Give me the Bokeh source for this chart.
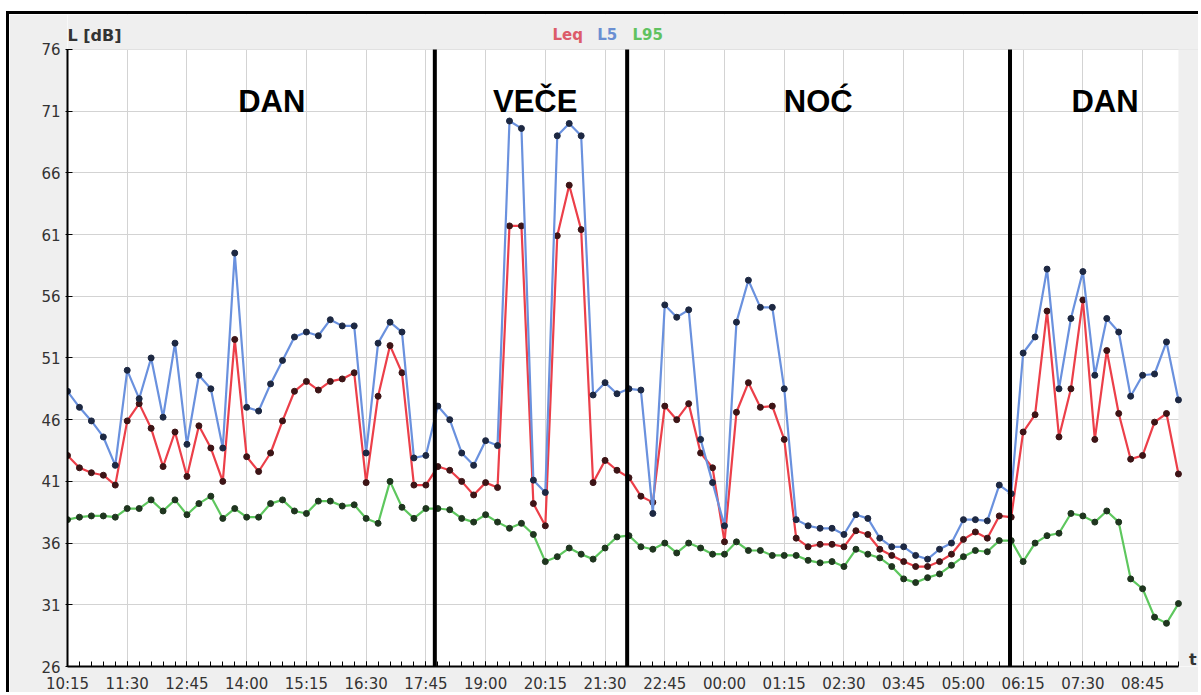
from bokeh.plotting import figure
from bokeh.models import Range1d, FixedTicker, Label, ColumnDataSource
from bokeh.embed import file_html
from bokeh.resources import INLINE

# ---- data (15-minute samples, 10:15 -> 09:30) ----
leq = [43.1, 42.1, 41.7, 41.5, 40.7, 45.9, 47.3, 45.3, 42.2, 45.0,
       41.4, 45.5, 43.7, 41.0, 52.5, 43.0, 41.8, 43.3, 45.9, 48.3,
       49.1, 48.4, 49.1, 49.3, 49.8, 40.9, 47.9, 52.0, 49.8, 40.7,
       40.7, 42.2, 41.9, 41.0, 39.9, 40.9, 40.5, 61.7, 61.7, 39.2,
       37.4, 60.9, 65.0, 61.4, 40.9, 42.7, 41.9, 41.3, 39.8, 39.3,
       47.1, 46.0, 47.3, 43.3, 42.1, 36.1, 46.6, 49.0, 47.0, 47.1,
       44.4, 36.4, 35.7, 35.9, 35.9, 35.7, 37.0, 36.7, 35.5, 35.0,
       34.5, 34.1, 34.1, 34.5, 35.1, 36.3, 36.9, 36.4, 38.2, 38.1,
       45.0, 46.4, 54.8, 44.6, 48.5, 55.7, 44.4, 51.6, 46.5, 42.8,
       43.1, 45.8, 46.5, 41.6]

l5 = [48.3, 47.0, 45.9, 44.6, 42.3, 50.0, 47.7, 51.0, 46.2, 52.2,
      44.0, 49.6, 48.5, 43.7, 59.5, 47.0, 46.7, 48.9, 50.8, 52.7,
      53.1, 52.8, 54.1, 53.6, 53.6, 43.3, 52.2, 53.9, 53.1, 42.9,
      43.1, 47.1, 46.0, 43.3, 42.3, 44.3, 43.9, 70.2, 69.6, 41.1,
      40.1, 69.0, 70.0, 69.0, 48.0, 49.0, 48.1, 48.5, 48.4, 38.4,
      55.3, 54.3, 54.9, 44.4, 40.9, 37.4, 53.9, 57.3, 55.1, 55.1,
      48.5, 37.9, 37.4, 37.2, 37.2, 36.7, 38.3, 38.0, 36.4, 35.7,
      35.7, 35.0, 34.7, 35.5, 36.0, 37.9, 37.9, 37.8, 40.7, 40.0,
      51.4, 52.7, 58.2, 48.5, 54.2, 58.0, 49.6, 54.2, 53.1, 47.9,
      49.6, 49.7, 52.3, 47.6]

l95 = [37.9, 38.1, 38.2, 38.2, 38.1, 38.8, 38.8, 39.5, 38.6, 39.5,
       38.3, 39.2, 39.8, 38.0, 38.8, 38.1, 38.1, 39.2, 39.5, 38.6,
       38.4, 39.4, 39.4, 39.0, 39.1, 38.0, 37.6, 41.0, 38.9, 38.0,
       38.8, 38.8, 38.7, 38.0, 37.7, 38.3, 37.7, 37.2, 37.6, 36.7,
       34.5, 34.9, 35.6, 35.1, 34.7, 35.6, 36.5, 36.6, 35.7, 35.5,
       36.0, 35.2, 36.0, 35.6, 35.1, 35.1, 36.1, 35.4, 35.4, 35.0,
       35.0, 35.0, 34.6, 34.4, 34.5, 34.1, 35.5, 35.1, 34.8, 34.1,
       33.1, 32.8, 33.2, 33.5, 34.2, 34.9, 35.4, 35.3, 36.2, 36.2,
       34.5, 36.0, 36.6, 36.8, 38.4, 38.2, 37.7, 38.6, 37.7, 33.1,
       32.3, 30.0, 29.5, 31.1]

x_tick_labels = ["10:15", "11:30", "12:45", "14:00", "15:15", "16:30", "17:45",
                 "19:00", "20:15", "21:30", "22:45", "00:00", "01:15", "02:30",
                 "03:45", "05:00", "06:15", "07:30", "08:45"]
y_ticks = [26, 31, 36, 41, 46, 51, 56, 61, 66, 71, 76]

periods = ["DAN", "VEČE", "NOĆ", "DAN"]
series_names = ["Leq", "L5", "L95"]

# ---- layout constants ----
period_bounds = [30.75, 46.85, 78.9]          # sample-index positions of dividers
period_label_x = [17.1, 39.15, 62.85, 86.85]  # sample-index centres of period names
legend_x = [40.6, 44.35, 47.3]
label_step = 5
y_lo, y_hi = 26, 76
x_pad_end = 94.93      # frame extends right of the last sample (grey strip)
y_pad_end = 78.83      # frame extends above 76 (grey header strip)
panel_grey = "#efefef"

n = len(leq)
xs = list(range(n))
src = ColumnDataSource(dict(x=xs, leq=leq, l5=l5, l95=l95))

p = figure(width=1192, height=681,
           x_range=Range1d(0, x_pad_end), y_range=Range1d(y_lo, y_pad_end),
           output_backend="svg", toolbar_location=None,
           min_border_left=58, min_border_right=0,
           min_border_top=0, min_border_bottom=27,
           background_fill_color="white", border_fill_color=panel_grey,
           outline_line_color=None)
p.styles = {"position": "absolute", "top": "11px", "left": "6px",
            "border-top": "3px solid #000", "border-left": "3px solid #000"}

# axes
tick_pos = list(range(0, n, label_step))
p.xaxis.ticker = FixedTicker(ticks=tick_pos, minor_ticks=xs)
p.xaxis.major_label_overrides = {t: lab for t, lab in zip(tick_pos, x_tick_labels)}
p.xaxis.bounds = (0, n - 1)
p.yaxis.ticker = FixedTicker(ticks=y_ticks)
p.yaxis.bounds = (y_lo, y_hi)
for ax in (p.xaxis[0], p.yaxis[0]):
    ax.axis_line_color = "black"
    ax.axis_line_width = 2
    ax.major_tick_line_color = "black"
    ax.minor_tick_line_color = "black"
    ax.major_label_text_font = "DejaVu Sans"
    ax.major_label_text_font_size = "15px"
    ax.major_label_text_color = "#333333"
p.xaxis.major_tick_in = 5
p.xaxis.major_tick_out = 0
p.xaxis.minor_tick_in = 5
p.xaxis.minor_tick_out = 0
p.xaxis.major_label_standoff = 8
p.yaxis.major_tick_in = 5
p.yaxis.major_tick_out = 2
p.yaxis.minor_tick_line_color = None
p.yaxis.major_label_standoff = 5

p.xgrid.grid_line_color = "#d3d3d3"
p.ygrid.grid_line_color = "#d3d3d3"
p.xgrid.grid_line_width = 1
p.ygrid.grid_line_width = 1

# grey header and right strip (covers grid outside the chart area)
p.quad(left=[0, n - 1], right=[x_pad_end, x_pad_end],
       bottom=[y_hi, y_lo], top=[y_pad_end, y_hi],
       fill_color=panel_grey, line_color=None)

# series
colors = {"leq": "#ec3f49", "l5": "#6a91de", "l95": "#5ec75e"}
dots = {"leq": "#3d1416", "l5": "#1d2842", "l95": "#1f351f"}
for key in ("leq", "l5", "l95"):
    p.line("x", key, source=src, line_color=colors[key], line_width=2.2)
    p.scatter("x", key, source=src, size=6, fill_color=dots[key],
              line_color=dots[key])

# period dividers
p.segment(x0=period_bounds, y0=[y_lo] * len(period_bounds),
          x1=period_bounds, y1=[y_hi] * len(period_bounds),
          line_color="black", line_width=4)

# period names
for name, px in zip(periods, period_label_x):
    p.add_layout(Label(x=px, y=71.75, text=name, text_align="center",
                       text_baseline="alphabetic", text_font="Liberation Sans",
                       text_font_style="bold", text_font_size="31px",
                       text_color="black"))

# legend as coloured words
legend_colors = ["#dc5c6a", "#6a8fd2", "#60c260"]
for name, lx, c in zip(series_names, legend_x, legend_colors):
    p.add_layout(Label(x=lx, y=77.15, text=name, text_align="left",
                       text_baseline="middle", text_font="DejaVu Sans",
                       text_font_style="bold", text_font_size="15px",
                       text_color=c))

# axis titles
p.add_layout(Label(x=0, y=77.15, text="L [dB]", text_align="left",
                   text_baseline="middle", text_font="DejaVu Sans",
                   text_font_style="bold", text_font_size="16px",
                   text_color="#333333"))
p.add_layout(Label(x=94.2, y=26.55, text="t", text_align="center",
                   text_baseline="middle", text_font="DejaVu Sans",
                   text_font_style="bold", text_font_size="16px",
                   text_color="#333333"))

open("out.html", "w").write(file_html(p, INLINE))
